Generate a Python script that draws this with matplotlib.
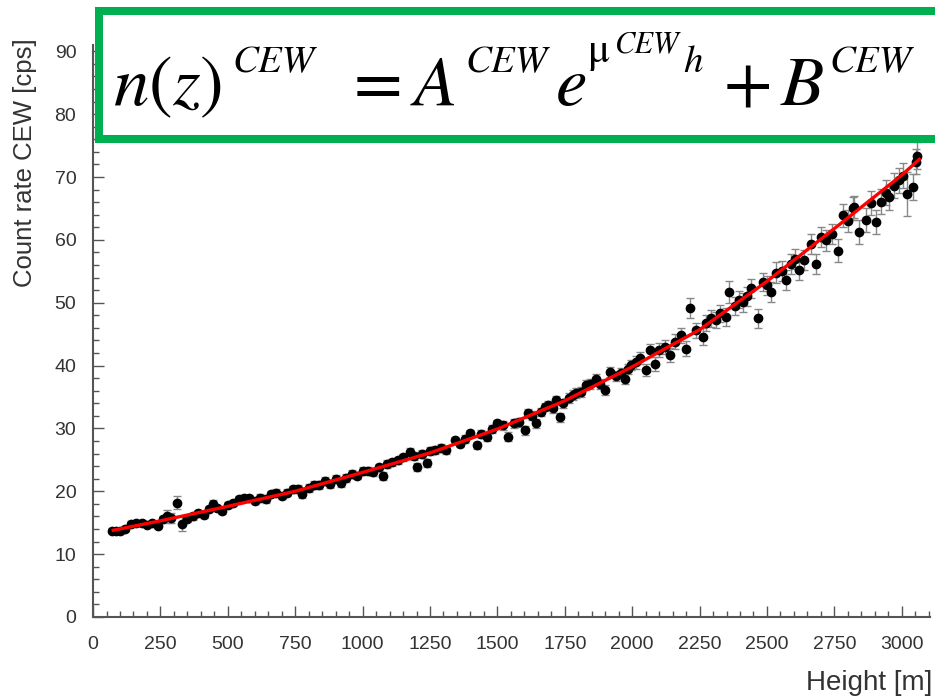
import matplotlib
matplotlib.use("Agg")
import matplotlib.pyplot as plt
from matplotlib.patches import Rectangle
from matplotlib.ticker import MultipleLocator

height = [70, 85, 100, 120, 140, 160, 180, 200, 220, 240,
          260, 275, 290, 313, 331, 350, 370, 390, 410, 430, 445, 460, 480, 500,
          520, 540, 560, 580, 600, 620, 640, 660, 680, 700, 720, 740,
          760, 776, 800, 820, 840, 860, 880, 900, 920, 940, 960, 980, 1000,
          1020, 1040, 1060, 1076, 1090, 1110, 1130, 1150, 1176, 1190, 1200, 1220, 1238, 1250,
          1270, 1290, 1310, 1343, 1360, 1380, 1398, 1423, 1440, 1460, 1480, 1497,
          1520, 1540, 1560, 1580, 1602, 1614, 1630, 1645, 1660, 1675, 1688, 1705, 1719, 1731, 1745,
          1765, 1780, 1793, 1810, 1830, 1845, 1867, 1880, 1898, 1917, 1940, 1960, 1972, 1985, 1997,
          2015, 2030, 2053, 2065, 2083, 2100, 2120, 2139, 2160, 2182, 2201, 2213, 2238,
          2262, 2275, 2293, 2310, 2324, 2349, 2361, 2380, 2395, 2410, 2425, 2441, 2466, 2484, 2500,
          2515, 2535, 2555, 2571, 2590, 2605, 2620, 2639, 2664, 2682, 2700, 2719, 2740,
          2762, 2781, 2800, 2818, 2824, 2843, 2867, 2886, 2905, 2923, 2940, 2954, 2970, 2991,
          3005, 3021, 3040, 3053, 3058]

rate = [13.7, 13.6, 13.6, 14.0, 14.8, 14.9, 15.0, 14.7, 14.9, 14.5,
        15.6, 16.0, 15.8, 18.2, 14.8, 15.6, 16.0, 16.5, 16.3, 17.2, 18.0, 17.3, 16.9, 17.8,
        18.1, 18.7, 18.9, 18.9, 18.5, 19.0, 18.7, 19.6, 19.8, 19.2, 19.8, 20.3,
        20.4, 19.6, 20.5, 21.0, 21.0, 21.6, 21.2, 22.0, 21.3, 22.1, 22.8, 22.5, 23.2,
        23.3, 23.0, 23.8, 22.4, 24.3, 24.6, 24.9, 25.4, 26.3, 25.6, 23.9, 25.9, 24.5, 26.4,
        26.6, 26.9, 26.5, 28.1, 27.6, 28.3, 29.2, 27.3, 29.1, 28.6, 29.9, 30.8,
        30.5, 28.7, 30.8, 31.0, 29.7, 32.4, 32.0, 30.8, 32.6, 33.4, 33.7, 33.2, 34.5, 31.8, 34.0,
        34.9, 35.3, 35.6, 35.8, 36.9, 37.1, 37.9, 37.0, 36.1, 39.0, 38.4, 38.8, 37.9, 39.5, 40.1,
        40.5, 41.2, 39.3, 42.4, 40.3, 42.5, 42.9, 41.7, 43.8, 44.8, 42.7, 49.1, 45.6,
        44.6, 46.8, 47.5, 47.2, 48.3, 47.7, 51.7, 49.5, 50.5, 50.1, 51.0, 52.3, 47.5, 53.3, 52.8,
        51.7, 54.8, 55.0, 53.6, 56.2, 56.9, 55.2, 56.8, 59.4, 56.2, 60.4, 59.9, 61.0,
        58.3, 63.9, 63.0, 65.0, 65.2, 61.3, 63.1, 65.8, 62.8, 66.1, 67.5, 66.8, 68.6, 69.5,
        70.2, 67.3, 68.4, 72.4, 73.4]

rate_err = [0.4, 0.4, 0.4, 0.4, 0.4, 0.4, 0.4, 0.4, 0.4, 0.4,
            0.5, 1.0, 0.8, 1.1, 1.2, 0.5, 0.5, 0.5, 0.5, 0.5, 0.6, 0.5, 0.5, 0.5,
            0.5, 0.5, 0.5, 0.5, 0.5, 0.5, 0.5, 0.5, 0.5, 0.5, 0.5, 0.5,
            0.6, 0.6, 0.6, 0.6, 0.6, 0.6, 0.6, 0.6, 0.6, 0.6, 0.6, 0.6, 0.6,
            0.6, 0.6, 0.6, 0.6, 0.6, 0.6, 0.6, 0.6, 0.6, 0.6, 0.6, 0.6, 0.6, 0.6,
            0.6, 0.6, 0.6, 0.6, 0.6, 0.6, 0.6, 0.6, 0.6, 0.6, 0.6, 0.6,
            0.7, 0.7, 0.7, 0.7, 0.7, 0.7, 0.7, 0.7, 0.7, 0.7, 0.7, 0.7, 0.7, 0.7, 0.7,
            0.8, 0.8, 0.8, 0.8, 0.8, 0.8, 0.8, 0.8, 0.8, 0.8, 0.8, 0.8, 0.8, 0.8, 0.8,
            1.0, 1.0, 1.0, 1.0, 1.1, 1.1, 1.1, 1.1, 1.2, 1.2, 1.2, 1.6, 1.2,
            1.3, 1.3, 1.3, 1.3, 1.4, 1.4, 1.8, 1.4, 1.4, 1.5, 1.5, 1.5, 1.5, 1.5, 1.5,
            1.6, 1.6, 1.6, 1.6, 1.6, 1.6, 1.6, 1.6, 1.6, 1.6, 1.6, 1.6, 1.6,
            1.8, 1.8, 1.8, 1.8, 1.8, 1.9, 1.9, 1.9, 1.9, 2.0, 2.0, 2.0, 2.0, 2.0,
            2.0, 3.5, 2.0, 2.0, 2.1]

# fitted curve
fit_height = [75, 250, 500, 750, 1000, 1250, 1500, 1750, 2000, 2250, 2500, 2750, 3000, 3065]
fit_rate = [13.8, 15.3, 17.6, 20.0, 23.0, 26.1, 29.9, 34.4, 39.8, 45.7, 53.4, 61.8, 70.3, 72.8]

x_ticks = [0, 250, 500, 750, 1000, 1250, 1500, 1750, 2000, 2250, 2500, 2750, 3000]
y_ticks = [0, 10, 20, 30, 40, 50, 60, 70, 80, 90]

plt.rcParams['font.family'] = ['Liberation Sans', 'DejaVu Sans']
plt.rcParams['mathtext.fontset'] = 'stix'

fig = plt.figure(figsize=(9.35, 7), dpi=100)
ax = fig.add_axes([0.0995, 0.1186, 0.8952, 0.8171])

ax.errorbar(height, rate, yerr=rate_err, fmt='o', color='black', ms=6,
            ecolor='#888888', elinewidth=1, capsize=3, capthick=1, zorder=3)
ax.plot(fit_height, fit_rate, color='#ff0000', lw=2.4, zorder=4)

ax.set_xlim(0, 3105)
ax.set_ylim(0, 91)
ax.set_xticks(x_ticks)
ax.set_yticks(y_ticks)
ax.xaxis.set_minor_locator(MultipleLocator(50))
ax.yaxis.set_minor_locator(MultipleLocator(2))

for side in ['top', 'right']:
    ax.spines[side].set_visible(False)
for side in ['left', 'bottom']:
    ax.spines[side].set_color('#555555')
    ax.spines[side].set_linewidth(1.5)

ax.tick_params(which='both', direction='in', color='#555555', labelcolor='#333333',
               labelsize=14)
ax.tick_params(which='major', length=8, width=1)
ax.tick_params(which='minor', length=4, width=1)
ax.tick_params(axis='x', pad=14)
ax.tick_params(axis='y', pad=12)

fig.text(25 / 935, 1 - 38 / 700, 'Count rate CEW [cps]', rotation=90,
         ha='center', va='top', fontsize=18.5, color='#333333')
fig.text(932 / 935, 1 - 683 / 700, 'Height [m]', ha='right', va='center',
         fontsize=20, color='#333333')

# green formula box over the top of the plot
box = Rectangle((99 / 935, 1 - 139 / 700), 0.95, 128 / 700, transform=fig.transFigure,
                facecolor='white', edgecolor='#00b050', lw=5.8, zorder=10,
                clip_on=False)
fig.patches.append(box)

# formula pieces: (text, x px, baseline y px, size, style)
formula = [
    (r'$n(z)$', 113, 105, 51, 'normal'),
    ('CEW', 232, 72, 28, 'italic'),
    ('=', 354, 105, 51, 'normal'),
    ('A', 414, 105, 51, 'italic'),
    ('CEW', 465, 72, 28, 'italic'),
    ('e', 556, 105, 51, 'italic'),
    ('\u03bc', 588, 62, 30, 'normal'),
    ('CEW', 615, 52, 22, 'italic'),
    ('h', 683, 72, 28, 'italic'),
    ('+', 724, 105, 51, 'normal'),
    ('B', 781, 105, 51, 'italic'),
    ('CEW', 829, 72, 28, 'italic'),
]
for txt, px, py, size, style in formula:
    fig.text(px / 935, 1 - py / 700, txt, ha='left', va='baseline',
             fontsize=size, style=style, family='STIXGeneral',
             color='black', zorder=11)

fig.savefig('out.png', dpi=100)
